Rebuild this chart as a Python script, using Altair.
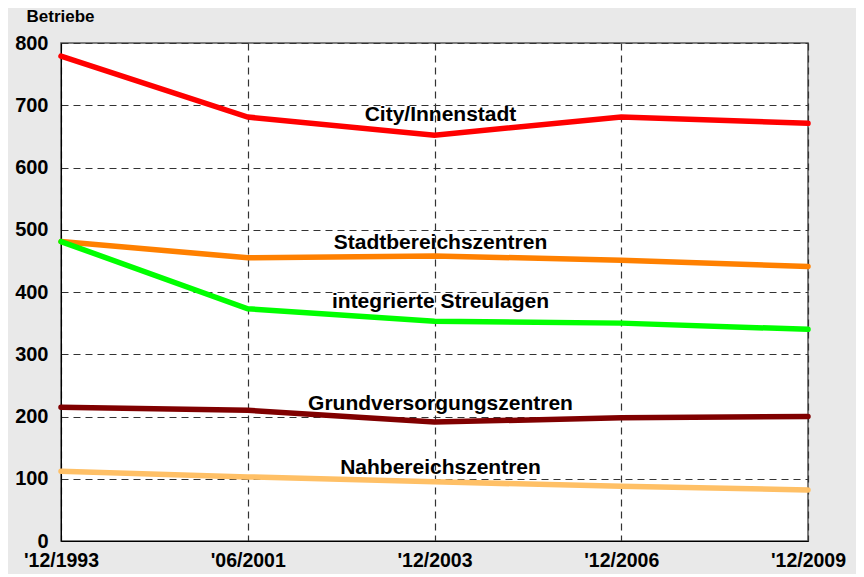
import altair as alt
import pandas as pd

periods = ["'12/1993", "'06/2001", "'12/2003", "'12/2006", "'12/2009"]
series_names = ["City/Innenstadt", "Stadtbereichszentren", "integrierte Streulagen",
                "Grundversorgungszentren", "Nahbereichszentren"]
city = [779, 681, 652, 681, 671]
stadt = [481, 455, 458, 451, 441]
streu = [481, 373, 353, 350, 340]
grund = [215, 210, 191, 198, 200]
nah = [112, 103, 95, 88, 82]
colors = ["#ff0000", "#ff8000", "#00ff00", "#800000", "#ffc066"]

label_y = [684, 479, 384, 220, 117]
label_period = "'12/2003"

values = [city, stadt, streu, grund, nah]
rows = []
for name, vals in zip(series_names, values):
    for p, v in zip(periods, vals):
        rows.append({"Zeitpunkt": p, "Betriebe": v, "Lage": name})
df = pd.DataFrame(rows)
labels = pd.DataFrame({"Lage": series_names, "Betriebe": label_y,
                       "Zeitpunkt": [label_period] * len(series_names)})

FONT = "Liberation Sans"

x = alt.X("Zeitpunkt:N", sort=periods,
          scale=alt.Scale(type="point", padding=0),
          axis=alt.Axis(title=None, labelAngle=0, labelFontSize=19.5, labelFont=FONT,
                        labelFontWeight="bold", labelColor="black", labelPadding=10,
                        ticks=False, domainColor="black", grid=True,
                        gridDash=[7, 5], gridColor="#333", gridWidth=1.2))
y = alt.Y("Betriebe:Q", scale=alt.Scale(domain=[0, 800], nice=False),
          axis=alt.Axis(values=[0, 100, 200, 300, 400, 500, 600, 700, 800],
                        labelFontSize=20, labelFont=FONT, labelFontWeight="bold",
                        labelColor="black", labelPadding=13, ticks=False,
                        domainColor="black", grid=True, gridDash=[7, 5],
                        gridColor="#333", gridWidth=1.2,
                        title="Betriebe", titleAngle=0, titleAlign="left",
                        titleBaseline="middle", titleX=-35, titleY=-27,
                        titleFontSize=17, titleFont=FONT, titleFontWeight="bold",
                        titleColor="black"))

color = alt.Color("Lage:N", scale=alt.Scale(domain=series_names, range=colors), legend=None)

lines = alt.Chart(df).mark_line(strokeWidth=5.5, strokeCap="round").encode(
    x=x, y=y, color=color, detail="Lage:N")

texts = alt.Chart(labels).mark_text(font=FONT, fontWeight="bold", fontSize=21,
                                    color="black", dx=6, baseline="middle").encode(
    x=alt.X("Zeitpunkt:N", sort=periods), y="Betriebe:Q", text="Lage:N")

chart = alt.layer(lines, texts).properties(
    width=747, height=498, background="#e9e9e9",
    padding={"left": 53, "top": 35, "right": 48, "bottom": 33},
    autosize="none",
).configure_view(stroke="#555", strokeWidth=1.5, fill="white")

chart.save("out.html", embed_options={"renderer": "svg", "actions": False})
